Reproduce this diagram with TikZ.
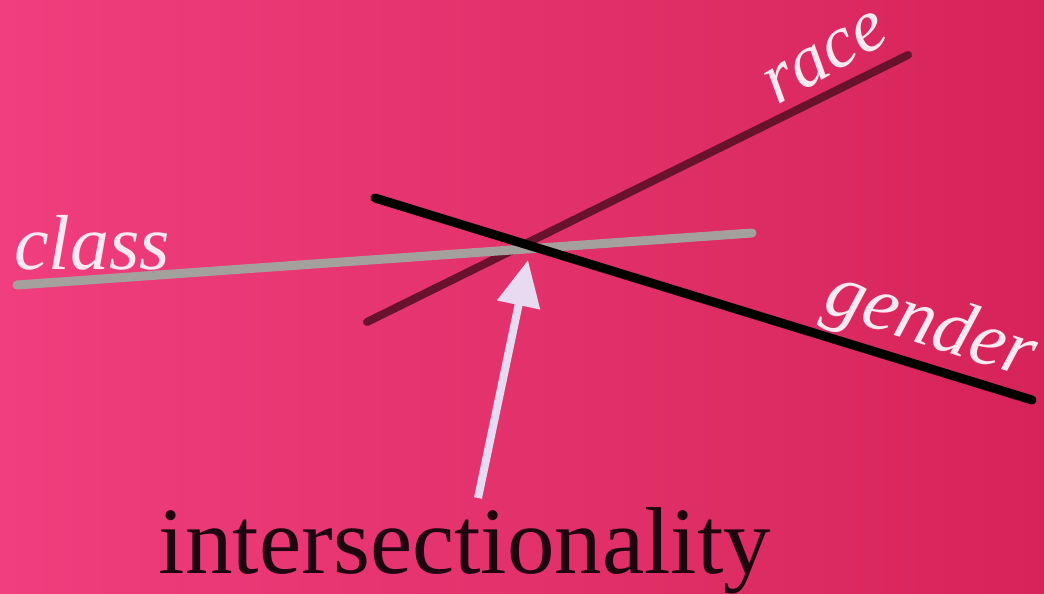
\documentclass[tikz,border=0pt]{standalone}
\usepackage{fontspec}
\setmainfont{Liberation Serif}
\usetikzlibrary{arrows.meta}
\definecolor{bgL}{RGB}{240,62,126}
\definecolor{bgR}{RGB}{214,36,90}
\definecolor{grayline}{RGB}{164,160,158}
\definecolor{maroon}{RGB}{105,18,45}
\definecolor{arrowc}{RGB}{232,218,240}
\definecolor{labelc}{RGB}{252,232,240}
\tikzset{
  axisline/.style={line width=9pt, line cap=round},
  script/.style={text=labelc, font=\fontsize{78}{78}\selectfont\itshape, inner sep=0pt},
}
\begin{document}
\begin{tikzpicture}[x=1pt,y=-1pt]
\useasboundingbox (0,0) rectangle (1044,594);
\shade[left color=bgL, right color=bgR] (0,0) rectangle (1044,594);
% endpoints
\coordinate (r1) at (367,322);
\coordinate (r2) at (908,55);
\coordinate (c1) at (17,285);
\coordinate (c2) at (752,233);
\coordinate (g1) at (375,198);
\coordinate (g2) at (1032,400);
\coordinate (a1) at (478,498);
\coordinate (a2) at (528,260);
% lines
\draw[axisline, color=maroon, line width=8pt] (r1) -- (r2);
\draw[axisline, color=grayline] (c1) -- (c2);
\draw[axisline, color=black] (g1) -- (g2);
% arrow
\draw[line width=8pt, color=arrowc, -{Triangle[width=42pt,length=46pt]}] (a1) -- (a2);
% labels
\node[script] (class) at (92,243) {class};
\node[script, rotate=30, font=\fontsize{74}{74}\selectfont\itshape] (race) at (826,58) {race};
\node[script, rotate=-18] (gender) at (930,327) {gender};
\node[inner sep=0pt, anchor=base, text={rgb,255:red,30;green,5;blue,15}, font=\fontsize{95}{95}\selectfont] (inter) at (465,573) {intersectionality};
\end{tikzpicture}
\end{document}
